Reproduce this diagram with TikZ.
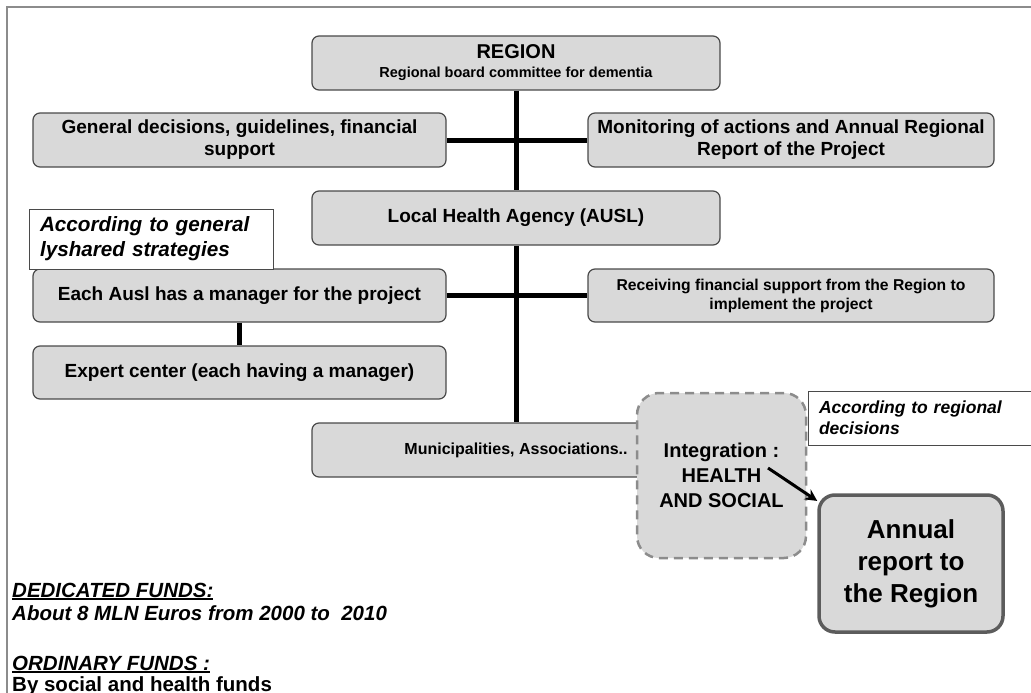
\documentclass[tikz,border=0pt]{standalone}
\usepackage{fontspec}
\setmainfont{Liberation Sans}
\newcommand{\fundsul}[1]{\setbox0\hbox{#1}\rlap{\rule[-2.6pt]{\wd0}{1.6pt}}\box0}
\usetikzlibrary{arrows.meta}
\definecolor{boxfill}{HTML}{D9D9D9}
\definecolor{boxline}{HTML}{4A4A4A}
\definecolor{framegray}{HTML}{8C8C8C}
\begin{document}
\begin{tikzpicture}[
  x=1pt, y=-1pt,
  block/.style={rectangle, rounded corners=7pt, draw=boxline, line width=1.2pt, fill=boxfill, align=center, inner sep=2pt, font=\bfseries\fontsize{19}{22}\selectfont},
  note/.style={rectangle, draw=boxline, line width=1pt, fill=white, align=left, inner xsep=11pt, inner ysep=0pt},
  trunk/.style={line width=5pt},
  funds/.style={anchor=base west, inner sep=0pt, font=\bfseries\itshape\fontsize{20.5}{24}\selectfont}
]
\useasboundingbox (0,0) rectangle (1031,693);
\clip (0,0) rectangle (1031,693);
\draw[framegray, line width=2pt] (7,7) rectangle (1060,720);

\node[block, minimum width=408pt, minimum height=54pt, font=\bfseries\fontsize{14.5}{19}\selectfont] (region) at (516,63) {{\fontsize{20}{19}\selectfont REGION}\\Regional board committee for dementia};
\node[block, minimum width=413pt, minimum height=54pt] (general) at (239.5,140) {General decisions, guidelines, financial\\support};
\node[block, minimum width=406pt, minimum height=54pt] (monitor) at (791,140) {Monitoring of actions and Annual Regional\\Report of the Project};
\node[block, minimum width=408pt, minimum height=54pt] (lha) at (516,218) {Local Health Agency (AUSL)};
\node[block, minimum width=413pt, minimum height=53pt] (ausl) at (239.5,295.5) {Each Ausl has a manager for the project};
\node[block, minimum width=406pt, minimum height=53pt, font=\bfseries\fontsize{15.7}{19}\selectfont] (receive) at (791,295.5) {Receiving financial support from the Region to\\implement the project};
\node[block, minimum width=413pt, minimum height=53pt] (expert) at (239.5,372.5) {Expert center (each having a manager)};
\node[block, minimum width=408pt, minimum height=54pt, font=\bfseries\fontsize{16}{19}\selectfont] (munic) at (516,450) {Municipalities, Associations..};
\node[block, minimum width=169pt, minimum height=165pt, rounded corners=22pt, draw=framegray, line width=2.5pt, dash pattern=on 9pt off 6pt, font=\bfseries\fontsize{20}{25}\selectfont] (integ) at (721.5,475.5) {Integration :\\HEALTH\\AND SOCIAL};
\node[block, minimum width=184pt, minimum height=137pt, rounded corners=16pt, line width=3.5pt, draw=boxline!90, font=\bfseries\fontsize{26}{32}\selectfont] (annual) at (911,563.5) {Annual\\report to\\the Region};

\node[note, minimum width=244pt, minimum height=60pt, text width=222pt, font=\bfseries\itshape\fontsize{20.7}{25}\selectfont] (notegen) at (151,239) {According to general\\lyshared strategies};
\node[note, minimum width=240pt, minimum height=54pt, text width=218pt, font=\bfseries\itshape\fontsize{17.5}{21}\selectfont] (notereg) at (928,418) {According to regional\\decisions};

\draw[trunk] (region) -- (lha);
\draw[trunk] (lha) -- (munic);
\draw[trunk] (general) -- (monitor);
\draw[trunk] (ausl) -- (receive);
\draw[trunk] (ausl) -- (expert);

\coordinate (hsend) at (768,468);
\draw[line width=3pt, -{Stealth[length=12pt,width=12pt]}] (hsend) -- (annual);

\node[funds] (dedhead) at (12,597) {\fundsul{DEDICATED FUNDS:}};
\node[funds] (dedval) at (12,620) {About 8 MLN Euros from 2000 to\ \ 2010};
\node[funds] (ordhead) at (12,670) {\fundsul{ORDINARY FUNDS :}};
\node[funds, font=\bfseries\fontsize{20.5}{24}\selectfont] (ordval) at (12,691) {By social and health funds};
\end{tikzpicture}
\end{document}
